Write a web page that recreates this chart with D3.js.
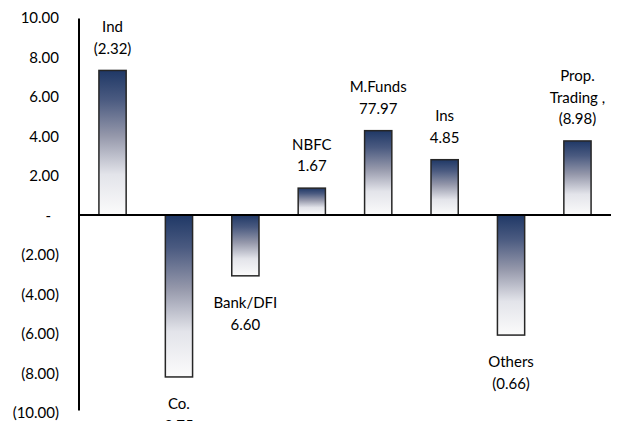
<!DOCTYPE html>
<html>
<head>
<meta charset="utf-8">
<script src="https://cdn.jsdelivr.net/npm/d3@7"></script>
<style>
  html, body { margin: 0; padding: 0; background: #fff; }
  svg { display: block; }
  text { font-family: Lato, "Open Sans", sans-serif; fill: #000; }
</style>
</head>
<body>
<svg id="chart" width="624" height="421"></svg>
<script>
// Net flows by investor type
const categories = ["Ind", "Co.", "Bank/DFI", "NBFC", "M.Funds", "Ins", "Others", "Prop. Trading"];
const values = [7.32, -8.20, -3.08, 1.36, 4.27, 2.80, -6.08, 3.75];
// Text shown beside each bar (name lines followed by the figure)
const labelLines = [
  ["Ind", "(2.32)"],
  ["Co.", "3.75"],
  ["Bank/DFI", "6.60"],
  ["NBFC", "1.67"],
  ["M.Funds", "77.97"],
  ["Ins", "4.85"],
  ["Others", "(0.66)"],
  ["Prop.", "Trading ,", "(8.98)"]
];
const yTicks = [10, 8, 6, 4, 2, 0, -2, -4, -6, -8, -10];

const svg = d3.select("#chart");
const plotLeft = 79, plotRight = 611, plotTop = 17.5, plotBottom = 412.5;

const x = d3.scaleBand().domain(categories).range([plotLeft, plotRight]).paddingInner(0.59).paddingOuter(0.3);
const y = d3.scaleLinear().domain([-10, 10]).range([plotBottom, plotTop]);

// vertical gradient: navy at the top of every bar fading to white
const defs = svg.append("defs");
const grad = defs.append("linearGradient")
  .attr("id", "barFill").attr("x1", 0).attr("y1", 0).attr("x2", 0).attr("y2", 1);
[[0, "#1f3866"], [0.2, "#4a5a80"], [0.45, "#9497aa"], [0.72, "#e3e4ea"], [1, "#fbfbfb"]]
  .forEach(([o, c]) => grad.append("stop").attr("offset", o).attr("stop-color", c));

// y axis with accounting-style tick labels; the zero tick is a dash set further right
const fmt = v => v === 0 ? "-" : (v < 0 ? "(" + d3.format(".2f")(-v) + ")" : d3.format(".2f")(v));
const yAxis = d3.axisLeft(y).tickValues(yTicks).tickFormat(fmt).tickSize(0).tickPadding(0);
const gy = svg.append("g").attr("transform", `translate(${plotLeft},0)`).call(yAxis);
gy.select(".domain").remove();
gy.selectAll(".tick text")
  .attr("x", d => d === 0 ? -28 : -20)
  .attr("dy", "0.35em")
  .attr("text-anchor", "end")
  .style("font-family", "Lato, 'Open Sans', sans-serif")
  .style("font-size", "15px")
  .style("fill", "#000");

// bars
svg.append("g").selectAll("rect").data(categories).join("rect")
  .attr("x", d => x(d))
  .attr("width", x.bandwidth())
  .attr("y", (d, i) => y(Math.max(0, values[i])))
  .attr("height", (d, i) => Math.abs(y(values[i]) - y(0)))
  .attr("fill", "url(#barFill)")
  .attr("stroke", "#262626")
  .attr("stroke-width", 1.5);

// axis lines
svg.append("line").attr("x1", plotLeft).attr("x2", plotLeft).attr("y1", y(10) + 1).attr("y2", y(-10) - 2)
  .attr("stroke", "#000").attr("stroke-width", 2);
svg.append("line").attr("x1", plotLeft).attr("x2", plotRight).attr("y1", y(0)).attr("y2", y(0))
  .attr("stroke", "#000").attr("stroke-width", 2);

// labels above positive bars, below negative bars
const lineH = 21.5;
const labels = svg.append("g").selectAll("text").data(categories).join("text")
  .attr("text-anchor", "middle")
  .style("font-size", "15px");
labels.each(function (d, i) {
  const lines = labelLines[i];
  const cx = x(d) + x.bandwidth() / 2;
  const v = values[i];
  let firstCenter;
  if (v >= 0) {
    firstCenter = y(v) - 22 - (lines.length - 1) * lineH;
  } else {
    firstCenter = y(v) + 27;
  }
  d3.select(this).selectAll("tspan").data(lines).join("tspan")
    .attr("x", cx)
    .attr("y", (t, k) => firstCenter + k * lineH)
    .attr("dy", "0.35em")
    .text(t => t);
});
</script>
</body>
</html>
